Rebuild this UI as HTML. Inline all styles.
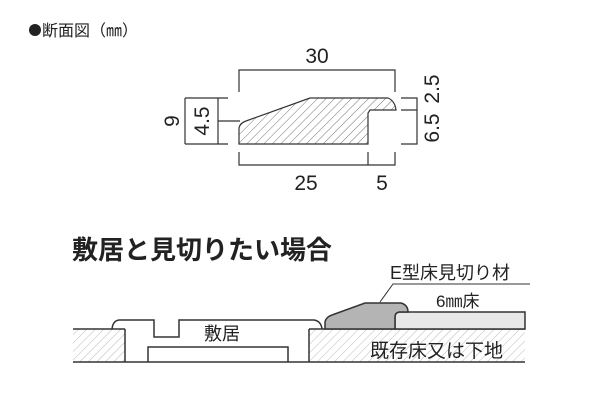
<!DOCTYPE html>
<html><head><meta charset="utf-8"><style>
html,body{margin:0;padding:0;background:#fff;width:600px;height:400px;overflow:hidden}
svg text{font-family:"Liberation Sans","Noto Sans CJK JP",sans-serif;fill:#222}
</style></head><body>
<svg width="600" height="400" viewBox="0 0 600 400" xmlns="http://www.w3.org/2000/svg">
<defs>
<pattern id="h" width="6" height="6" patternUnits="userSpaceOnUse" patternTransform="rotate(45)">
<line x1="0" y1="0" x2="0" y2="6" stroke="#555" stroke-width="0.8"/>
</pattern>
<pattern id="h2" width="6" height="6" patternUnits="userSpaceOnUse" patternTransform="rotate(45)">
<line x1="0" y1="0" x2="0" y2="6" stroke="#aaa" stroke-width="0.8"/>
</pattern>
</defs>
<circle cx="35" cy="30" r="6" fill="#222"/>
<text x="42" y="36" font-size="16" style="font-family:'Noto Sans CJK JP',sans-serif">断面図（㎜）</text>
<g stroke="#333" stroke-width="1.2" fill="none">
<path d="M239,144 L239,128 Q240,123 246,121 L310,98 L388,98 Q395,101 396,110 L370,110 L368,113 L368,144 Z" fill="url(#h)"/>
<path d="M239,92 L239,70 L395,70 L395,92"/>
<path d="M185,98 L228,98 M185,144 L228,144 M185,98 L185,144 M218,98 L218,144 M218,121 L240,121"/>
<path d="M401,98 L417,98 L417,144 L401,144 M401,110 L417,110"/>
<path d="M239,152 L239,165 L395,165 L395,152 M368,152 L368,165"/>
</g>
<text x="317" y="63" font-size="21" text-anchor="middle">30</text>
<text x="306" y="190" font-size="21" text-anchor="middle">25</text>
<text x="382" y="190" font-size="21" text-anchor="middle">5</text>
<text transform="translate(172,121) rotate(-90)" font-size="21" text-anchor="middle" dy="7">9</text>
<text transform="translate(202,121) rotate(-90)" font-size="21" text-anchor="middle" dy="7">4.5</text>
<text transform="translate(432,89) rotate(-90)" font-size="21" text-anchor="middle" dy="7">2.5</text>
<text transform="translate(432,128) rotate(-90)" font-size="21" text-anchor="middle" dy="7">6.5</text>

<text x="72" y="259" font-size="26" font-weight="bold" style="font-family:'Noto Sans CJK JP',sans-serif">敷居と見切りたい場合</text>

<g stroke="#333" stroke-width="1.5">
<rect x="73" y="329" width="52" height="33" fill="url(#h2)" stroke="none"/>
<rect x="309" y="329" width="216" height="33" fill="url(#h2)" stroke="none"/>
<path d="M73,329 L125,329 M125,329 L125,362 M309,329 L525,329 M309,329 L309,362 M73,362 L525,362" fill="none"/>
<path d="M112,329 Q113,320 120,320 L154,320 L154,337 L179,337 L179,320 L314,320 Q321,321 322,329" fill="none"/>
<path d="M148,362 L148,347 L288,347 L288,362" fill="none"/>
<rect x="395" y="312" width="130" height="17" fill="#e8e8e8"/>
<path d="M325,329 L325,322 Q326,317 332,315 L365,303 L401,303 Q408,305 408,312 L399,312 Q395,313 395,317 L395,329 Z" fill="#b4b4b4"/>
<path d="M380,302 L393,284 L530,284" fill="none" stroke-width="1"/>
</g>
<text x="390" y="279" font-size="18">E型床見切り材</text>
<text x="436" y="307" font-size="17">6㎜床</text>
<text x="204" y="340" font-size="18">敷居</text>
<text x="370" y="357" font-size="19">既存床又は下地</text>
</svg>
</body></html>
